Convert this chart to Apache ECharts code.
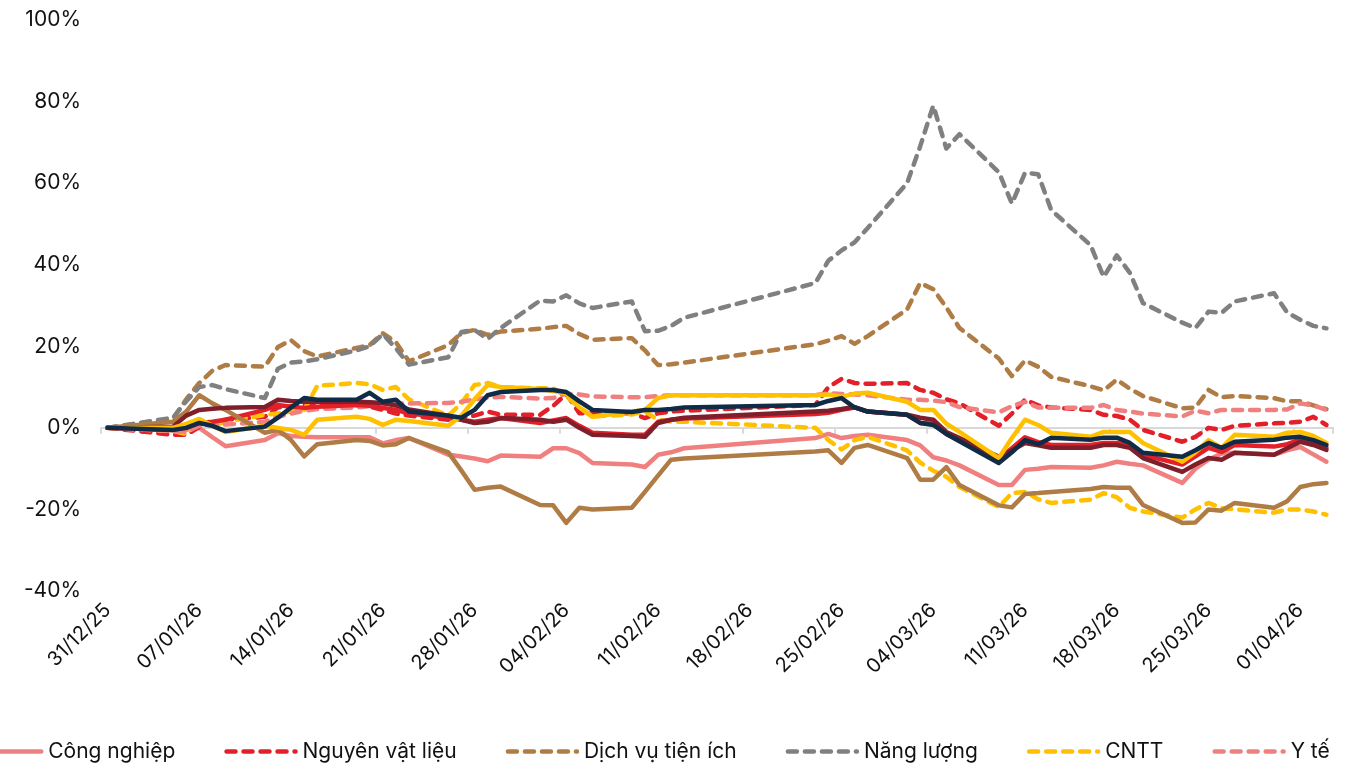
<!DOCTYPE html>
<html>
<head>
<meta charset="utf-8">
<script src="https://cdn.jsdelivr.net/npm/echarts@6/dist/echarts.min.js"></script>
<style>
  html, body { margin: 0; padding: 0; background: #fff; }
  #chart { width: 1348px; height: 763px; }
</style>
</head>
<body>
<div id="chart"></div>
<script>
// trading days (weekends, New Year and Tet closed)
const tradingDays = [
  '31/12/25',
  '05/01/26', '06/01/26', '07/01/26', '08/01/26', '09/01/26',
  '12/01/26', '13/01/26', '14/01/26', '15/01/26', '16/01/26',
  '19/01/26', '20/01/26', '21/01/26', '22/01/26', '23/01/26',
  '26/01/26', '27/01/26', '28/01/26', '29/01/26', '30/01/26',
  '02/02/26', '03/02/26', '04/02/26', '05/02/26', '06/02/26',
  '09/02/26', '10/02/26', '11/02/26', '12/02/26', '13/02/26',
  '23/02/26', '24/02/26', '25/02/26', '26/02/26', '27/02/26',
  '02/03/26', '03/03/26', '04/03/26', '05/03/26', '06/03/26',
  '09/03/26', '10/03/26', '11/03/26', '12/03/26', '13/03/26',
  '16/03/26', '17/03/26', '18/03/26', '19/03/26', '20/03/26',
  '23/03/26', '24/03/26', '25/03/26', '26/03/26', '27/03/26',
  '30/03/26', '31/03/26', '01/04/26', '02/04/26', '03/04/26'
];

// % change since 31/12/25
const congNghiep = [0,
  -0.5, -0.5, 0, -2.3, -4.5,  -3, -1.3, -2, -2.2, -2.3,  -2.3, -2.3, -3.8, -3, -2.5,
  -6.6, -7, -7.5, -8.2, -6.8,  -7.1, -5, -5, -6.2, -8.6,  -9, -9.6, -6.6, -6, -5,
  -2.5, -1.5, -2.5, -2, -1.7,  -3, -4.3, -7.2, -8, -9.2,  -14, -14, -10.3, -10, -9.6,
  -9.8, -9.2, -8.3, -8.8, -9.2,  -13.5, -10, -7.8, -6.3, -6.1,  -6.6, -5.5, -4.7, -6.5, -8.3];
const nguyenVatLieu = [0,
  -1.7, -1.7, 0.2, 1.2, 2,  2.7, 5, 5.3, 5.6, 5.6,  5.6, 5.2, 4.4, 3.5, 3,
  2, 2.5, 3, 4, 3.2,  3.2, 5.4, 8.3, 3.6, 3.6,  3.6, 2.4, 3.6, 4, 4.2,
  5.6, 10, 12, 11, 10.8,  11, 9.3, 8.6, 7, 6,  0.5, 3.5, 6.9, 5.5, 5,
  4.4, 3.2, 2.9, 2, -0.5,  -3.4, -2.2, 0, -0.5, 0.5,  1.1, 1.2, 1.5, 2.7, 0.7];
const dichVuTienIch = [0,
  2.3, 7, 11, 14, 15.4,  15, 19.8, 21.5, 18.8, 17.5,  19.6, 20.3, 23.2, 21, 16.3,
  20.3, 23.3, 24, 22.8, 23.6,  24.3, 24.7, 25, 23, 21.6,  22, 19, 15.4, 15.6, 16,
  20.5, 21.4, 22.5, 20.6, 22.5,  29, 35.5, 34, 29.5, 24.5,  17, 12.7, 16.5, 15, 12.5,
  10.2, 9.2, 11.8, 9.6, 7.8,  4.8, 5, 9.3, 7.5, 7.8,  7.3, 6.5, 6.5, 5.5, 4.6];
const nangLuong = [0,
  2.5, 6.5, 10, 10.5, 9.5,  7.3, 14.5, 16, 16.3, 16.8,  19, 20, 23, 19.5, 15.5,
  17.3, 23.5, 24, 21.8, 24.5,  31.2, 31, 32.5, 30.5, 29.4,  31, 23.7, 23.8, 25, 27,
  35.5, 41, 43.5, 45.5, 49,  60, 69, 79, 68.5, 72,  62.7, 55, 62.5, 62.2, 53.4,
  44.8, 37, 42.3, 38, 30.6,  25.8, 24.5, 28.5, 28.2, 31,  33, 28.3, 26.5, 25, 24.4];
const cntt = [0,
  -0.8, -1.5, 1.5, 0.5, 1.5,  3.2, 3.5, 4, 4.4, 10.3,  11, 10.7, 9.3, 10, 7,
  3, 6, 10.5, 11, 10,  9.7, 9.7, 7.8, 5, 2.8,  3.3, 4, 2, 1.5, 1.5,
  0, -3, -5.3, -3, -2.2,  -5.5, -8.5, -10.5, -12, -14.5,  -19.4, -16, -15.7, -17.5, -18.4,
  -17.6, -16, -17, -19.6, -20.5,  -22, -20, -18.4, -19.7, -20,  -20.8, -20, -20, -20.5, -21.3];
const yTe = [0,
  -0.8, -1, 0.5, 0.7, 0.8,  1.5, 2.7, 3.5, 4.2, 4.6,  5, 5.3, 5.6, 6, 6,
  6.1, 6.4, 7, 7.4, 7.6,  7.2, 7.3, 8.4, 8.2, 7.7,  7.5, 7.5, 7.8, 8, 8,
  8, 8.5, 8.3, 8.2, 8,  6.9, 6.9, 6.7, 6.3, 5.1,  3.8, 5.3, 6.4, 5, 4.9,
  4.9, 5.6, 4.4, 4, 3.5,  2.8, 4.2, 3.6, 4.4, 4.4,  4.4, 4.5, 6, 5.5, 4.4];
const nganHang = [0,
  -0.5, 0, 1.2, 1.5, 2,  4.4, 5.6, 5.2, 4.9, 5.2,  5.6, 5.4, 4.9, 4.4, 3.5,
  2.5, 2, 1.5, 2, 2.4,  1.2, 1.8, 2.4, 0.5, -1.2,  -1.7, -1.7, 1.5, 2, 2.3,
  3.4, 3.7, 4.4, 5, 4,  3.2, 1.2, 1, -1.5, -3,  -7.8, -5, -2.3, -3.5, -4.2,
  -4.2, -3.7, -3.7, -4.2, -6.6,  -9, -7, -4.9, -5.9, -4.2,  -4.6, -4, -2.9, -3.5, -4.9];
const batDongSan = [0,
  1.5, 4, 8, 6, 4.4,  -1.2, -0.5, -3, -7, -4,  -3, -3.2, -4.3, -4, -2.5,
  -6, -10.5, -15.2, -14.7, -14.4,  -18.9, -19, -23.3, -19.6, -20,  -19.6, -15.7, -11.7, -7.8, -7.5,
  -5.8, -5.5, -8.6, -4.9, -4.2,  -7.4, -12.7, -12.7, -9.6, -14,  -19, -19.5, -16.2, -16, -15.7,
  -15, -14.5, -14.7, -14.7, -18.9,  -23.3, -23.2, -20, -20.3, -18.4,  -19.6, -18, -14.5, -13.8, -13.5];
const tieuDung = [0,
  0.3, 3, 4.4, 4.7, 4.9,  5.1, 6.9, 6.6, 6.4, 6.4,  6.4, 6.3, 6.1, 5.5, 4.5,
  3, 2, 1.2, 1.5, 2.4,  2, 1.5, 2, 0, -1.7,  -2, -2.2, 1.2, 2, 2.5,
  4, 4.2, 4.6, 5.1, 4,  3.2, 2.5, 2, -1, -2.5,  -7.1, -5.5, -3.7, -4.3, -4.9,
  -4.9, -4.2, -4.2, -4.9, -7.4,  -10.8, -9, -7.4, -7.8, -6.1,  -6.6, -5, -3.4, -4.2, -5.4];
const taiChinh = [0,
  0, 1, 2.2, 0.5, -1,  0.5, 0, -0.5, -1.7, 2,  2.7, 2.2, 0.7, 2, 1.7,
  0.5, 3, 7, 10.5, 10,  9.5, 9, 8.5, 5, 2.7,  4, 4.4, 7.3, 8, 8,
  8, 8.2, 7.6, 8.4, 8.6,  6.4, 4.4, 4.4, 1, -1,  -7.4, -2.5, 2, 0.7, -1.2,
  -2.2, -1, -1, -1, -3.7,  -8.3, -6, -3, -4.9, -1.7,  -2.2, -1.2, -1, -2, -3.7];
const vnIndex = [0,
  -0.5, 0, 1.2, 0.5, -0.8,  0.3, 2.5, 5, 7.3, 6.9,  6.9, 8.6, 6.4, 6.9, 4,
  3, 2.5, 4.4, 8, 8.8,  9.3, 9.3, 8.8, 6.5, 4.4,  3.9, 4.4, 4.4, 4.6, 5,
  5.6, 6.6, 7.3, 5, 4,  3.2, 1.2, 0.7, -1.5, -3.3,  -8.6, -6, -3, -4, -2.4,
  -2.9, -2.4, -2.4, -3.7, -6.1,  -7.1, -5.5, -3.7, -4.9, -3.4,  -2.9, -2.4, -2.2, -3, -4.2];

const yTicks = { min: -40, max: 100, step: 20 };
const legendNames = ['Công nghiệp', 'Nguyên vật liệu', 'Dịch vụ tiện ích', 'Năng lượng', 'CNTT', 'Y tế'];

// calendar day categories 31/12/25 .. 03/04/26 (date axis like the original)
const pad = n => (n < 10 ? '0' : '') + n;
const days = [];
for (let d = new Date(2025, 11, 31); d <= new Date(2026, 3, 3); d.setDate(d.getDate() + 1)) {
  days.push(pad(d.getDate()) + '/' + pad(d.getMonth() + 1) + '/' + String(d.getFullYear()).slice(2));
}
function onCalendar(values) {
  const out = days.map(() => null);
  tradingDays.forEach((t, i) => { out[days.indexOf(t)] = values[i]; });
  return out;
}

const LW = 4.5;
const DASH = [9, 8];
function line(name, values, color, dashed) {
  return {
    name: name,
    type: 'line',
    data: onCalendar(values),
    connectNulls: true,
    symbol: 'none',
    lineStyle: { color: color, width: LW, type: dashed ? DASH : 'solid', cap: 'round', join: 'round' },
    itemStyle: { color: color },
    emphasis: { disabled: true }
  };
}

const chart = echarts.init(document.getElementById('chart'));
chart.setOption({
  animation: false,
  backgroundColor: '#fff',
  textStyle: { fontFamily: 'Inter' },
  grid: { left: 101, right: 15, top: 20, bottom: 172 },
  legend: {
    data: legendNames,
    left: -35,
    top: 736,
    itemWidth: 69,
    itemHeight: 14,
    itemGap: 49,
    itemStyle: { opacity: 0 },
    lineStyle: { width: LW, cap: 'round' },
    textStyle: { fontFamily: 'Inter', fontSize: 21, color: '#111', padding: [0, 0, 0, 2] }
  },
  xAxis: [{
    type: 'category',
    data: days,
    boundaryGap: true,
    axisLine: { show: false, onZero: false },
    axisTick: { show: false },
    axisLabel: { interval: 6, rotate: 45, margin: 16, fontSize: 20, color: '#111', fontFamily: 'Inter' },
    splitLine: { show: false }
  }, {
    type: 'category',
    data: days,
    boundaryGap: true,
    position: 'bottom',
    axisLine: { show: true, onZero: true, lineStyle: { color: '#D9D9D9', width: 2 } },
    axisTick: { show: true, interval: 6, length: 6, lineStyle: { color: '#D9D9D9', width: 2 } },
    axisLabel: { show: false },
    splitLine: { show: false }
  }],
  yAxis: {
    type: 'value',
    min: yTicks.min,
    max: yTicks.max,
    interval: yTicks.step,
    axisLine: { show: false },
    axisTick: { show: false },
    splitLine: { show: false },
    axisLabel: { formatter: '{value}%', margin: 20, fontSize: 21, color: '#111', fontFamily: 'Inter' }
  },
  series: [
    line('Công nghiệp', congNghiep, '#F08080', false),
    line('Nguyên vật liệu', nguyenVatLieu, '#E3202A', true),
    line('Dịch vụ tiện ích', dichVuTienIch, '#B07C45', true),
    line('Năng lượng', nangLuong, '#808080', true),
    line('CNTT', cntt, '#FFC000', true),
    line('Y tế', yTe, '#F08080', true),
    line('Ngân hàng', nganHang, '#E3202A', false),
    line('Bất động sản', batDongSan, '#B07C45', false),
    line('Hàng tiêu dùng', tieuDung, '#7E1F2B', false),
    line('Tài chính', taiChinh, '#FFC000', false),
    line('VN-Index', vnIndex, '#0F2B46', false)
  ]
});
</script>
</body>
</html>
